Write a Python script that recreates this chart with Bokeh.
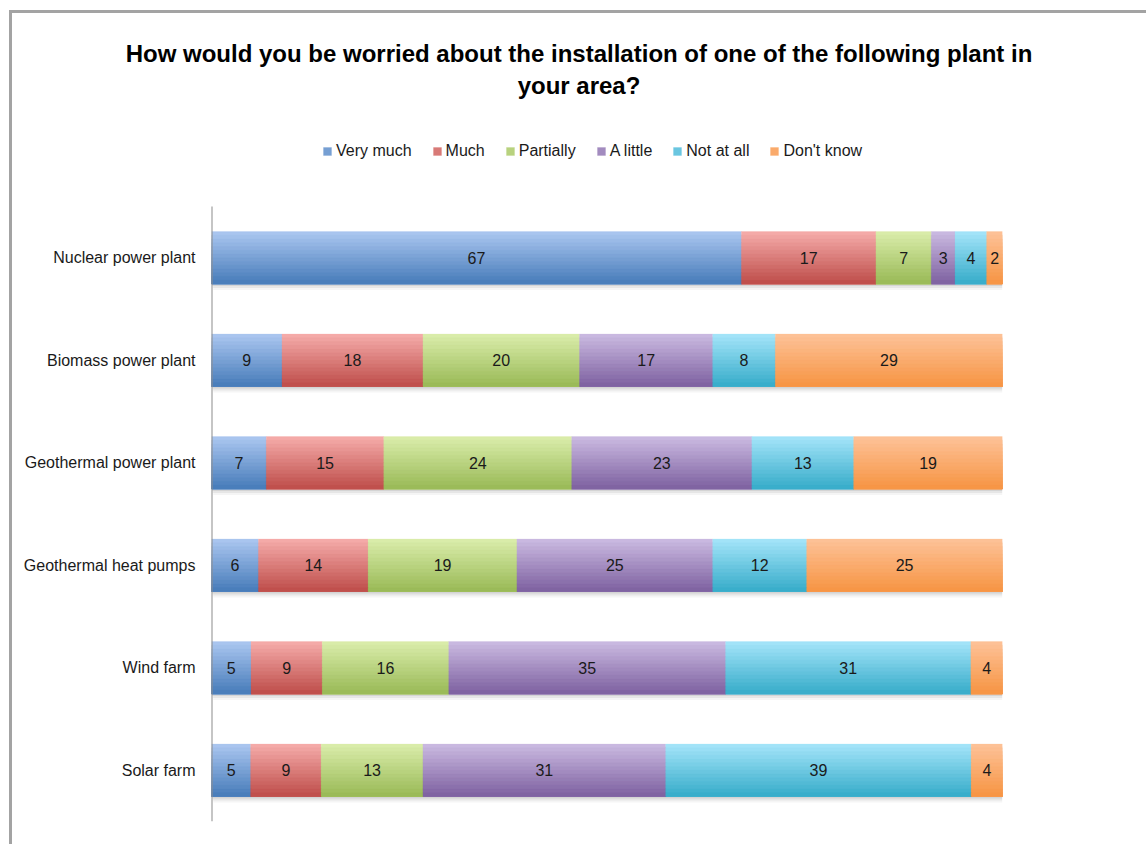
from bokeh.plotting import figure
from bokeh.layouts import column
from bokeh.models import ColumnDataSource, Range1d, FixedTicker, Legend, LegendItem, Div
from bokeh.core.properties import value
from bokeh.embed import file_html
from bokeh.resources import INLINE

# ---- data ----
categories = ["Nuclear power plant", "Biomass power plant", "Geothermal power plant",
              "Geothermal heat pumps", "Wind farm", "Solar farm"]
series = ["Very much", "Much", "Partially", "A little", "Not at all", "Don't know"]
very_much = [67, 9, 7, 6, 5, 5]
much = [17, 18, 15, 14, 9, 9]
partially = [7, 20, 24, 19, 16, 13]
a_little = [3, 17, 23, 25, 35, 31]
not_at_all = [4, 8, 13, 12, 31, 39]
dont_know = [2, 29, 19, 25, 4, 4]
title_lines = ["How would you be worried about the installation of one of the following plant in",
               "your area?"]

# ---- styles ----
top_colors = ["#a9c5ef", "#f4aaa8", "#d9eca9", "#c9b8e0", "#a2e3f8", "#fdc196"]
bottom_colors = ["#4a7ebb", "#c0504d", "#9bbb59", "#8064a2", "#3aaecb", "#f79646"]
FONT = "'Liberation Sans', Arial, sans-serif"
FS = "16px"

values = [very_much, much, partially, a_little, not_at_all, dont_know]
n = len(categories)
ypos = [n - 1 - i for i in range(n)]
totals = [sum(v[i] for v in values) for i in range(n)]
H = 0.51
NSTRIP = 14
ROW_PX = 102.5            # pixel height of one category row
EXTRA_ROWS = 92 / ROW_PX  # frame extends above the first bar row to hold the legend


def hx(c):
    c = c.lstrip("#")
    return [int(c[k:k + 2], 16) for k in (0, 2, 4)]


def mix(a, b, t):
    ca, cb = hx(a), hx(b)
    return "#%02x%02x%02x" % tuple(int(round(ca[k] + (cb[k] - ca[k]) * t)) for k in range(3))


p = figure(width=1125, height=730, x_range=Range1d(0, 100),
           y_range=Range1d(-0.5, n - 0.5 + EXTRA_ROWS),
           output_backend="svg", toolbar_location=None, x_axis_location=None,
           min_border_left=199, min_border_right=135, min_border_top=0, min_border_bottom=23)
p.outline_line_color = None
p.grid.visible = False
p.background_fill_color = "white"

# segment bounds
lefts, rights, ys, labels, centers = [], [], [], [], []
seg_series = []
for j, vals in enumerate(values):
    for i in range(n):
        cum = sum(values[k][i] for k in range(j))
        l = cum / totals[i] * 100
        r = (cum + vals[i]) / totals[i] * 100
        lefts.append(l)
        rights.append(r)
        ys.append(ypos[i])
        labels.append(str(vals[i]))
        centers.append((l + r) / 2)
        seg_series.append(j)

# shadow
px_y = 1 / ROW_PX
px_x = 100 / 791
for off, a in [(6, 0.04), (4, 0.06), (2, 0.08)]:
    p.hbar(y=[y - off * px_y for y in ypos], left=[off * 0.3 * px_x] * n,
           right=[100 + off * 0.6 * px_x] * n,
           height=H, fill_color="black", fill_alpha=a, line_color=None)

# gradient strips (bottom-anchored, progressively darker)
sy, sh, sl, sr, sc = [], [], [], [], []
legend_index = {}
for k in range(NSTRIP):
    t = k / (NSTRIP - 1)
    frac = 1 - k / NSTRIP
    for s in range(len(lefts)):
        j = seg_series[s]
        if k == NSTRIP // 2 and j not in legend_index:
            legend_index[j] = len(sy)
        hh = H * frac
        sy.append(ys[s] - H / 2 + hh / 2)
        sh.append(hh)
        sl.append(lefts[s])
        sr.append(rights[s])
        sc.append(mix(top_colors[j], bottom_colors[j], t))
src = ColumnDataSource(dict(y=sy, height=sh, left=sl, right=sr, color=sc))
bars = p.hbar(y="y", height="height", left="left", right="right", fill_color="color",
              line_color="color", line_width=0.3, source=src)

# value labels
lab_src = ColumnDataSource(dict(x=centers, y=ys, text=labels))
p.text(x="x", y="y", text="text", source=lab_src, text_align="center", text_baseline="middle",
       text_font=value(FONT), text_font_size=FS, text_color="#1a1a1a")

# y axis (labels only; axis line drawn over the category rows)
yax = p.yaxis[0]
yax.ticker = FixedTicker(ticks=ypos)
yax.major_label_overrides = {ypos[i]: categories[i] for i in range(n)}
yax.major_tick_line_color = None
yax.minor_tick_line_color = None
yax.major_tick_out = 0
yax.major_tick_in = 0
yax.major_label_standoff = 16
yax.axis_line_color = None
yax.major_label_text_font = FONT
yax.major_label_text_font_size = FS
yax.major_label_text_color = "#1a1a1a"
p.segment(x0=[0], y0=[-0.5], x1=[0], y1=[n - 0.5], line_color="#8c8c8c", line_width=2)

# legend (uses the bar renderer; index picks each series' mid-tone colour)
items = [LegendItem(label=name, renderers=[bars], index=legend_index[j])
         for j, name in enumerate(series)]
legend = Legend(items=items, orientation="horizontal", location=(111, 660),
                glyph_width=10, glyph_height=10, label_standoff=4, spacing=20,
                padding=0, margin=0, border_line_color=None, background_fill_alpha=0,
                label_text_font=FONT, label_text_font_size=FS,
                label_text_color="#1a1a1a", label_height=20)
p.add_layout(legend)

# title
title_html = (
    '<div style="width:1108px; margin-left:8px; padding-top:20px; white-space:nowrap; '
    "font-family:'Liberation Sans', Arial, sans-serif; font-weight:bold; font-size:24px; "
    'line-height:32px; text-align:center; color:black;">'
    + title_lines[0] + "<br>" + title_lines[1] + "</div>"
)
title = Div(text=title_html, width=1125, height=91)

layout = column(title, p, spacing=0)
layout.styles = {"border-left": "3px solid #a3a3a3", "border-top": "3px solid #a3a3a3",
                 "margin-left": "9px", "margin-top": "10px"}

open("out.html", "w").write(file_html(layout, INLINE))
